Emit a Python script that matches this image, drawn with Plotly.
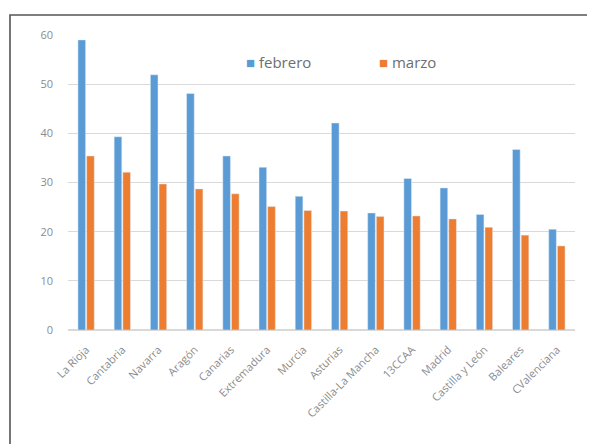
import plotly.graph_objects as go

categorias = ["La Rioja", "Cantabria", "Navarra", "Aragón", "Canarias", "Extremadura",
              "Murcia", "Asturias", "Castilla-La Mancha", "13CCAA", "Madrid",
              "Castilla y León", "Baleares", "CValenciana"]
febrero = [59.0, 39.3, 51.9, 48.1, 35.4, 33.1, 27.2, 42.1, 23.8, 30.8, 28.9, 23.5, 36.7, 20.5]
marzo = [35.4, 32.1, 29.7, 28.7, 27.7, 25.1, 24.3, 24.2, 23.1, 23.2, 22.6, 20.9, 19.3, 17.1]
series = ["febrero", "marzo"]
colores = ["#5B9BD5", "#ED7D31"]

# the page body has an 8px margin; keep the figure inside the window
OFF = 8
W, H = 595 - OFF, 444 - OFF
L, R, T = 68 - OFF, 20, 35 - OFF
PH = 295
B = H - T - PH
pw, ph = W - L - R, PH

fig = go.Figure()
for nombre, vals, col in zip(series, [febrero, marzo], colores):
    fig.add_trace(go.Bar(x=categorias, y=vals, name=nombre, marker_color=col))

def px_x(p):
    return (p - OFF - L) / pw

def px_y(p):
    return (H - B - (p - OFF)) / ph

# outer frame: top and left edges, drawn as one open path
frame_path = (f"M {px_x(600):.4f},{px_y(15):.4f} L {px_x(10):.4f},{px_y(15):.4f} "
              f"L {px_x(10):.4f},{px_y(460):.4f}")
fig.add_shape(type="path", xref="paper", yref="paper", path=frame_path,
              line=dict(color="#555555", width=1.6), fillcolor="rgba(0,0,0,0)")

# compact Excel-like legend
leg_x = [250, 383]
for nombre, col, xp in zip(series, colores, leg_x):
    fig.add_annotation(xref="paper", yref="paper", x=px_x(xp - 6), y=px_y(62),
                       xanchor="left", yanchor="middle", showarrow=False,
                       text=f"<span style='color:{col}'>■</span> {nombre}",
                       font=dict(family="Open Sans", size=15, color="#6e6e6e"))

fig.update_layout(
    width=W, height=H,
    margin=dict(l=L, r=R, t=T, b=B, autoexpand=False),
    paper_bgcolor="white", plot_bgcolor="white",
    barmode="group", bargap=0.52, bargroupgap=0.12,
    font=dict(family="Open Sans", color="#8c8c8c"),
    showlegend=False,
    xaxis=dict(tickangle=-45, tickfont=dict(size=11, color="#8c8c8c"),
               showline=True, linecolor="#d9d9d9", ticks="", ticklabelstandoff=8,
               automargin=False),
    yaxis=dict(range=[0, 60], dtick=10, tickfont=dict(size=11, color="#8c8c8c"),
               gridcolor="#d9d9d9", zeroline=True, zerolinecolor="#d9d9d9",
               ticks="", ticklabelstandoff=14, automargin=False),
)

fig.write_html("out.html", config={"displayModeBar": False})
